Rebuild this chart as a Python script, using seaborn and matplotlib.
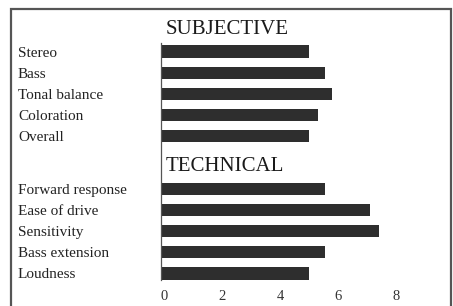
import pandas as pd
import matplotlib.pyplot as plt
import matplotlib.transforms as mtransforms
import seaborn as sns
from matplotlib.patches import Rectangle

# Ratings
subjective_labels = ['Stereo', 'Bass', 'Tonal balance', 'Coloration', 'Overall']
subjective_scores = [5.1, 5.65, 5.9, 5.4, 5.1]
technical_labels = ['Forward response', 'Ease of drive', 'Sensitivity',
                    'Bass extension', 'Loudness']
technical_scores = [5.65, 7.2, 7.5, 5.65, 5.1]
x_ticks = [0, 2, 4, 6, 8]

# Row positions: two groups separated by a heading gap
subjective_pos = [0, 1, 2, 3, 4]
technical_pos = [6.5, 7.5, 8.5, 9.5, 10.5]


def build_frame():
    """Combine both groups into one table for seaborn."""
    return pd.DataFrame({
        'label': subjective_labels + technical_labels,
        'score': subjective_scores + technical_scores,
        'pos': subjective_pos + technical_pos,
    })


def main():
    sns.set_style('white')
    plt.rcParams['font.family'] = ['Liberation Serif', 'DejaVu Serif']

    data = build_frame()

    fig = plt.figure(figsize=(4.53, 3.06), dpi=100)
    ax = fig.add_axes([161 / 453, 1 - 280 / 306, (440 - 161) / 453,
                       (280 - 43.3) / 306])

    sns.barplot(data=data, x='score', y='pos', orient='h', native_scale=True,
                width=0.6, color='#2e2e2e', saturation=1, linewidth=0, ax=ax)

    ax.set_xlim(0, (440 - 161) / 29)
    ax.set_ylim(10.82, -0.4)
    ax.set_xlabel('')
    ax.set_ylabel('')

    # category labels, left aligned near the frame
    ax.set_yticks(data['pos'], data['label'])
    for lbl in ax.get_yticklabels():
        lbl.set_horizontalalignment('left')
        lbl.set_fontsize(11)
        lbl.set_color('#222222')
    ax.tick_params(axis='y', length=0, pad=(161 - 18) * 0.72)

    ax.set_xticks(x_ticks, [str(t) for t in x_ticks])
    ax.tick_params(axis='x', length=0, pad=7, labelsize=10.5, labelcolor='#333333')
    shift = mtransforms.ScaledTranslation(3 / 100, 0, fig.dpi_scale_trans)
    for lbl in ax.get_xticklabels():
        lbl.set_transform(lbl.get_transform() + shift)

    for side in ['top', 'right', 'bottom']:
        ax.spines[side].set_visible(False)
    ax.spines['left'].set_color('#555555')
    ax.spines['left'].set_linewidth(0.9)

    # group headings
    ax.text(0.15, -1.07, 'SUBJECTIVE', fontsize=15, va='center', ha='left',
            color='#1a1a1a', clip_on=False)
    ax.text(0.15, 5.44, 'TECHNICAL', fontsize=15, va='center', ha='left',
            color='#1a1a1a', clip_on=False)

    # outer frame, running off the bottom of the picture
    fig.patches.append(Rectangle((10.5 / 453, -0.05), (451 - 10.5) / 453,
                                 1.05 - 9 / 306, transform=fig.transFigure,
                                 fill=False, edgecolor='#555555', linewidth=1.6))

    fig.savefig('out.png', dpi=100)


if __name__ == '__main__':
    main()
